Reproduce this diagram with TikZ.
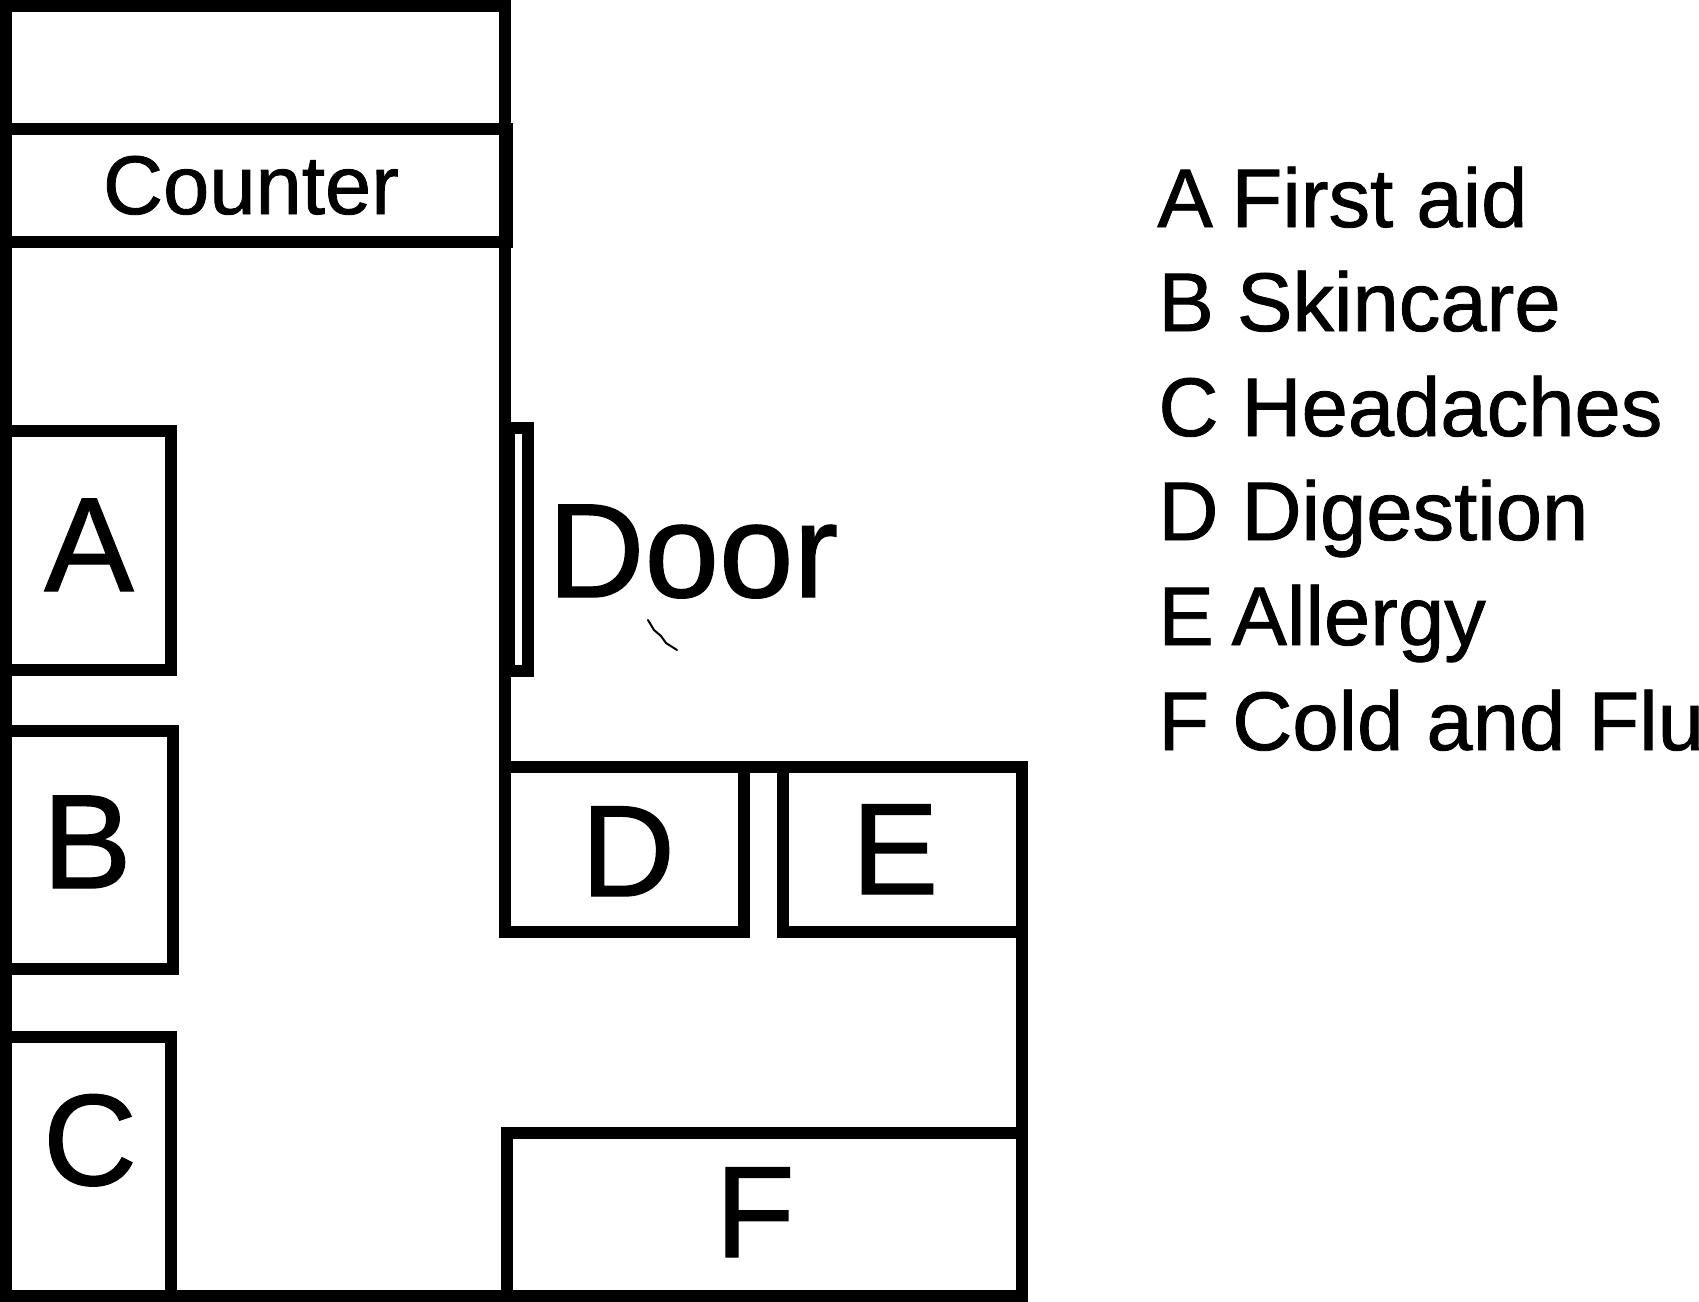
\documentclass[tikz,border=0pt]{standalone}
\usepackage{fontspec}
\setmainfont{Liberation Sans}[FakeBold=1]

\begin{document}
\begin{tikzpicture}[x=0.5pt,y=-0.5pt,wall/.style={draw,line width=6.3pt,line cap=rect,line join=miter},
    big label/.style={anchor=base,inner sep=0pt,font=\fontsize{65}{65}\selectfont},
    huge label/.style={anchor=base,inner sep=0pt,font=\fontsize{67}{67}\selectfont},
    small label/.style={anchor=base west,inner sep=0pt,font=\fontsize{41.6}{41.6}\selectfont}]

            \useasboundingbox (0,0) rectangle (1699,1302);

            % outer walls
            \draw[wall] (505,772) -- (505,6) -- (6,6) -- (6,1296) -- (1022,1296) -- (1022,767) -- (505,767);

            % counter
            \draw[wall] (6,129) rectangle (507,242);

            % shelves
            \draw[wall] (6,431) rectangle (171,670);
            \draw[wall] (6,731) rectangle (173,969);
            \draw[wall] (6,1037) rectangle (171,1296);
            \draw[wall] (505,767) rectangle (744,932);
            \draw[wall] (783,767) rectangle (1022,932);
            \draw[wall] (507,1133) rectangle (1022,1296);

            % door
            \draw[wall] (509,428) rectangle (528,671);
            \draw[line width=1pt,line cap=round] (648,620) -- (654,630) -- (661,636) -- (666,643) -- (677,650);

            \node[huge label] (door) at (693,597) {Door};
            \node[small label, anchor=base] (counter) at (251,214) {Counter};

            \node[huge label] (A) at (89,591) {A};
            \node[huge label] (B) at (87,888) {B};
            \node[big label] (C) at (90,1185) {C};
            \node[big label] (D) at (628,896) {D};
            \node[big label] (E) at (895,894) {E};
            \node[big label] (F) at (755,1257) {F};

            \node[small label] (legend a) at (1157,227) {A\kern-2.2pt{} First aid};
            \node[small label] (legend b) at (1158,331) {B Skincare};
            \node[small label] (legend c) at (1158,436) {C Headaches};
            \node[small label] (legend d) at (1158,540) {D Digestion};
            \node[small label] (legend e) at (1158,645) {E\kern-2.7pt{} Allergy};
            \node[small label] (legend f) at (1158,750) {F Cold and Flu};
        \end{tikzpicture}
\end{document}
